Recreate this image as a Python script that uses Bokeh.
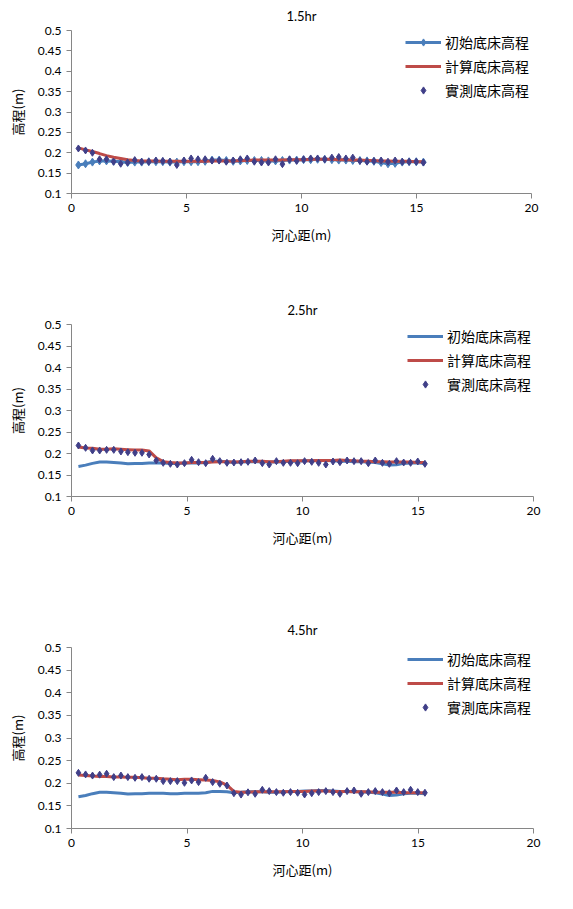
from bokeh.plotting import figure
from bokeh.layouts import column
from bokeh.models import FixedTicker, CustomJSTickFormatter, Range1d
from bokeh.embed import file_html
from bokeh.resources import INLINE

# ---- data ----
x = [0.30, 0.61, 0.91, 1.22, 1.52, 1.83, 2.14, 2.44, 2.75, 3.05,
     3.36, 3.67, 3.97, 4.28, 4.58, 4.89, 5.20, 5.50, 5.81, 6.11,
     6.42, 6.73, 7.03, 7.34, 7.64, 7.95, 8.26, 8.56, 8.87, 9.17,
     9.48, 9.79, 10.09, 10.40, 10.70, 11.01, 11.32, 11.62, 11.93, 12.23,
     12.54, 12.85, 13.15, 13.46, 13.76, 14.07, 14.38, 14.68, 14.99, 15.30]

initial_bed = [0.170, 0.173, 0.177, 0.180, 0.180, 0.179, 0.178, 0.176, 0.177, 0.177,
               0.178, 0.178, 0.178, 0.177, 0.177, 0.178, 0.178, 0.178, 0.179, 0.182,
               0.182, 0.181, 0.179, 0.180, 0.181, 0.181, 0.181, 0.180, 0.180, 0.181,
               0.182, 0.182, 0.183, 0.183, 0.184, 0.184, 0.183, 0.182, 0.182, 0.181,
               0.181, 0.180, 0.179, 0.176, 0.173, 0.174, 0.177, 0.178, 0.178, 0.177]

calc_15 = [0.212, 0.207, 0.203, 0.198, 0.193, 0.189, 0.186, 0.183, 0.181, 0.180,
           0.180, 0.180, 0.179, 0.179, 0.179, 0.179, 0.179, 0.179, 0.179, 0.180,
           0.180, 0.180, 0.180, 0.181, 0.181, 0.182, 0.182, 0.182, 0.182, 0.182,
           0.183, 0.183, 0.183, 0.184, 0.184, 0.184, 0.184, 0.183, 0.183, 0.182,
           0.182, 0.181, 0.181, 0.180, 0.180, 0.179, 0.179, 0.179, 0.178, 0.178]

meas_15 = [0.2105, 0.2056, 0.200, 0.184, 0.184, 0.178, 0.173, 0.176, 0.182, 0.178,
           0.178, 0.181, 0.180, 0.178, 0.170, 0.181, 0.186, 0.184, 0.184, 0.181,
           0.181, 0.178, 0.181, 0.184, 0.186, 0.178, 0.176, 0.176, 0.184, 0.172,
           0.184, 0.180, 0.184, 0.186, 0.186, 0.184, 0.188, 0.1895, 0.186, 0.188,
           0.180, 0.178, 0.180, 0.181, 0.178, 0.181, 0.178, 0.178, 0.178, 0.176]

calc_25 = [0.215, 0.213, 0.212, 0.210, 0.210, 0.211, 0.210, 0.209, 0.208, 0.208,
           0.206, 0.190, 0.181, 0.179, 0.178, 0.178, 0.179, 0.179, 0.179, 0.180,
           0.181, 0.181, 0.180, 0.181, 0.182, 0.182, 0.182, 0.181, 0.181, 0.182,
           0.183, 0.183, 0.183, 0.183, 0.184, 0.184, 0.184, 0.185, 0.184, 0.183,
           0.182, 0.182, 0.181, 0.181, 0.180, 0.180, 0.180, 0.180, 0.179, 0.179]

meas_25 = [0.2186, 0.2132, 0.207, 0.207, 0.2085, 0.2085, 0.2047, 0.2031, 0.2016, 0.2016,
           0.1977, 0.1837, 0.1783, 0.176, 0.1744, 0.1775, 0.1853, 0.1798, 0.1775, 0.1876,
           0.1822, 0.1783, 0.179, 0.1798, 0.1806, 0.1837, 0.1775, 0.1744, 0.1822, 0.1783,
           0.1783, 0.1775, 0.1822, 0.1806, 0.1783, 0.1744, 0.1814, 0.1798, 0.1837, 0.1822,
           0.1822, 0.1775, 0.1837, 0.1783, 0.176, 0.1822, 0.179, 0.1783, 0.1814, 0.176]

calc_45 = [0.218, 0.217, 0.216, 0.215, 0.215, 0.214, 0.214, 0.213, 0.213, 0.212,
           0.211, 0.211, 0.210, 0.209, 0.208, 0.209, 0.209, 0.208, 0.207, 0.206,
           0.203, 0.196, 0.182, 0.180, 0.180, 0.181, 0.181, 0.181, 0.181, 0.181,
           0.182, 0.182, 0.182, 0.183, 0.183, 0.183, 0.182, 0.182, 0.182, 0.181,
           0.181, 0.181, 0.180, 0.180, 0.180, 0.180, 0.179, 0.179, 0.179, 0.179]

meas_45 = [0.223, 0.2195, 0.217, 0.219, 0.221, 0.2136, 0.217, 0.2136, 0.212, 0.2136,
           0.2099, 0.2099, 0.2047, 0.2047, 0.2047, 0.201, 0.2062, 0.2025, 0.212, 0.2025,
           0.1988, 0.195, 0.178, 0.175, 0.180, 0.1767, 0.1855, 0.1826, 0.1804, 0.179,
           0.1804, 0.179, 0.1752, 0.178, 0.1804, 0.1826, 0.1804, 0.1767, 0.1826, 0.184,
           0.1767, 0.1804, 0.1826, 0.1804, 0.178, 0.184, 0.1804, 0.1855, 0.1804, 0.179]

titles = ["1.5hr", "2.5hr", "4.5hr"]
y_ticks = [0.1, 0.15, 0.2, 0.25, 0.3, 0.35, 0.4, 0.45, 0.5]
x_ticks = [0, 5, 10, 15, 20]
label_init = "初始底床高程"
label_calc = "計算底床高程"
label_meas = "實測底床高程"
x_title = "河心距(m)"
y_title = "高程(m)"

BLUE = "#4A7EBB"
RED = "#BE4B48"
MEAS = "#403F88"
AXIS = "#868686"
FONT = "Lato"
CJK = "Noto Sans CJK TC"


def make_panel(title, calc, meas, blue_markers, left, right, top, fw, fh, bottom, title_gap):
    p = figure(frame_width=fw, frame_height=fh, output_backend="svg",
               toolbar_location=None, x_range=Range1d(0, 20), y_range=Range1d(0.1, 0.5),
               min_border_left=left, min_border_right=right,
               min_border_top=top, min_border_bottom=bottom,
               title=title)
    p.title.align = "center"
    p.title.vertical_align = "top"
    p.title.text_font = FONT
    p.title.text_font_size = "13px"
    p.title.text_font_style = "normal"
    p.title.text_color = "#000000"
    p.title.standoff = title_gap
    p.outline_line_color = None
    p.xgrid.grid_line_color = None
    p.ygrid.grid_line_color = None

    p.xaxis.ticker = FixedTicker(ticks=x_ticks)
    p.yaxis.ticker = FixedTicker(ticks=y_ticks)
    p.yaxis.formatter = CustomJSTickFormatter(
        code="var s = tick.toFixed(2); if (s.endsWith('0')) s = s.slice(0, -1); return s;")
    for ax in (p.xaxis[0], p.yaxis[0]):
        ax.axis_line_color = AXIS
        ax.major_tick_line_color = AXIS
        ax.minor_tick_line_color = None
        ax.major_tick_out = 5
        ax.major_tick_in = 0
        ax.major_label_text_font = FONT
        ax.major_label_text_font_size = "12px"
        ax.major_label_text_color = "#000000"
        ax.axis_label_text_font = CJK
        ax.axis_label_text_font_size = "13px"
        ax.axis_label_text_font_style = "normal"
        ax.axis_label_text_color = "#000000"
    p.xaxis.axis_label = x_title
    p.yaxis.axis_label = y_title
    p.xaxis.axis_label_standoff = 10
    p.yaxis.axis_label_standoff = 8

    p.line(x, initial_bed, line_color=BLUE, line_width=3, legend_label=label_init)
    if blue_markers:
        p.scatter(x, initial_bed, marker="diamond", size=8, color=BLUE, legend_label=label_init)
    p.line(x, calc, line_color=RED, line_width=3, legend_label=label_calc)
    p.scatter(x, meas, marker="diamond", size=7, color=MEAS, legend_label=label_meas)

    lg = p.legend[0]
    lg.location = "top_right"
    lg.margin = 0
    lg.padding = 2
    lg.spacing = 4
    lg.glyph_width = 36
    lg.glyph_height = 18
    lg.label_height = 18
    lg.label_standoff = 4
    lg.label_text_font = CJK
    lg.label_text_font_size = "14px"
    lg.label_text_color = "#000000"
    lg.background_fill_alpha = 0
    lg.border_line_alpha = 0
    return p


p1 = make_panel(titles[0], calc_15, meas_15, True, 71, 42, 30, 460, 163, 97, 10)
p2 = make_panel(titles[1], calc_25, meas_25, False, 68, 43, 34, 462, 172, 114, 9)
p3 = make_panel(titles[2], calc_45, meas_45, False, 68, 43, 37, 462, 181, 81, 15)

layout = column(p1, p2, p3, spacing=0)
open("out.html", "w").write(file_html(layout, INLINE))
